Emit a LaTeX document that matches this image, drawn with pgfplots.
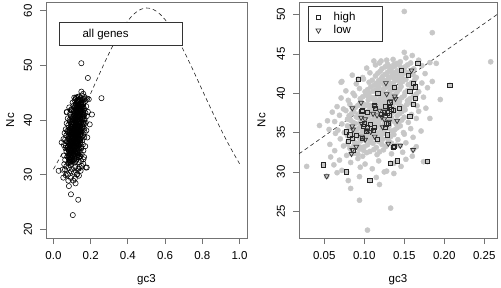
\documentclass[border=0pt]{standalone}
\usepackage{pgfplots}
\pgfplotsset{compat=1.18}
\usepackage{pgfplotstable}
\usepackage{fontspec}
\setmainfont{Liberation Sans}
\definecolor{frame}{gray}{0.45}
\definecolor{ptgray}{gray}{0.78}

% all genes (except the high/low subsets, listed below)
\pgfplotstableread[row sep=\\]{
x y\\
0.072 30.2\\ 0.095 30.6\\ 0.128 30.1\\ 0.146 30.7\\ 0.110 30.4\\ 0.062 30.9\\
0.083 31.2\\ 0.101 31.0\\ 0.118 31.4\\ 0.137 31.1\\ 0.152 31.6\\ 0.092 31.7\\ 0.069 31.5\\ 0.174 31.3\\
0.078 32.1\\ 0.088 32.4\\ 0.098 32.0\\ 0.107 32.6\\ 0.116 32.2\\ 0.124 32.8\\ 0.134 32.3\\ 0.148 32.5\\ 0.063 32.7\\ 0.160 32.0\\ 0.094 32.9\\
0.074 33.3\\ 0.082 33.0\\ 0.091 33.6\\ 0.100 33.2\\ 0.108 33.8\\ 0.115 33.1\\ 0.122 33.5\\ 0.131 33.9\\ 0.140 33.4\\ 0.152 33.7\\ 0.165 33.2\\ 0.057 33.5\\ 0.096 33.95\\ 0.087 33.35\\
0.070 34.2\\ 0.079 34.6\\ 0.086 34.1\\ 0.093 34.8\\ 0.101 34.4\\ 0.107 34.0\\ 0.113 34.7\\ 0.119 34.3\\ 0.126 34.9\\ 0.133 34.5\\ 0.142 34.1\\ 0.150 34.8\\ 0.161 34.4\\ 0.064 34.9\\ 0.097 34.55\\ 0.123 34.15\\ 0.089 34.75\\
0.067 35.3\\ 0.075 35.0\\ 0.082 35.6\\ 0.090 35.2\\ 0.096 35.8\\ 0.103 35.4\\ 0.109 35.1\\ 0.115 35.7\\ 0.121 35.3\\ 0.127 35.9\\ 0.134 35.2\\ 0.141 35.6\\ 0.149 35.0\\ 0.158 35.5\\ 0.171 35.2\\ 0.056 35.4\\ 0.044 35.9\\ 0.100 35.65\\ 0.112 35.45\\ 0.086 35.35\\ 0.129 35.55\\
0.063 36.4\\ 0.072 36.1\\ 0.079 36.7\\ 0.086 36.3\\ 0.092 36.9\\ 0.098 36.5\\ 0.104 36.0\\ 0.110 36.6\\ 0.116 36.2\\ 0.122 36.8\\ 0.128 36.4\\ 0.134 36.9\\ 0.140 36.1\\ 0.147 36.6\\ 0.155 36.3\\ 0.165 36.8\\ 0.054 36.5\\ 0.101 36.85\\ 0.113 36.35\\ 0.119 36.55\\ 0.089 36.15\\ 0.131 36.05\\ 0.137 36.45\\
0.060 37.6\\ 0.069 37.2\\ 0.077 37.8\\ 0.084 37.4\\ 0.090 37.0\\ 0.096 37.7\\ 0.102 37.3\\ 0.108 37.9\\ 0.114 37.5\\ 0.120 37.1\\ 0.126 37.6\\ 0.132 37.2\\ 0.138 37.8\\ 0.144 37.4\\ 0.151 37.9\\ 0.159 37.3\\ 0.168 37.7\\ 0.105 37.05\\ 0.117 37.85\\ 0.123 37.35\\ 0.099 37.45\\ 0.135 37.55\\ 0.111 37.25\\ 0.129 37.95\\ 0.087 37.65\\
0.066 38.3\\ 0.074 38.0\\ 0.082 38.6\\ 0.089 38.2\\ 0.095 38.8\\ 0.101 38.4\\ 0.107 38.1\\ 0.113 38.7\\ 0.119 38.3\\ 0.125 38.9\\ 0.131 38.5\\ 0.137 38.1\\ 0.143 38.6\\ 0.150 38.2\\ 0.157 38.8\\ 0.166 38.4\\ 0.177 38.1\\ 0.104 38.55\\ 0.116 38.95\\ 0.122 38.15\\ 0.128 38.75\\ 0.134 38.35\\ 0.098 38.05\\ 0.110 38.25\\ 0.140 38.85\\
0.071 39.4\\ 0.080 39.1\\ 0.088 39.7\\ 0.095 39.3\\ 0.102 39.9\\ 0.108 39.5\\ 0.114 39.0\\ 0.120 39.6\\ 0.126 39.2\\ 0.132 39.8\\ 0.138 39.4\\ 0.144 39.0\\ 0.150 39.7\\ 0.157 39.3\\ 0.165 39.9\\ 0.174 39.5\\ 0.111 39.25\\ 0.117 39.85\\ 0.123 39.45\\ 0.129 39.05\\ 0.135 39.65\\ 0.141 39.25\\ 0.105 39.15\\
0.077 40.3\\ 0.086 40.0\\ 0.094 40.6\\ 0.101 40.2\\ 0.108 40.8\\ 0.114 40.4\\ 0.120 40.1\\ 0.126 40.7\\ 0.132 40.3\\ 0.138 40.9\\ 0.144 40.5\\ 0.151 40.1\\ 0.159 40.6\\ 0.168 40.2\\ 0.179 40.7\\ 0.117 40.55\\ 0.123 40.25\\ 0.129 40.85\\ 0.135 40.45\\ 0.141 40.15\\ 0.104 40.45\\
0.072 41.5\\ 0.090 41.2\\ 0.099 41.8\\ 0.106 41.4\\ 0.112 41.0\\ 0.118 41.6\\ 0.124 41.2\\ 0.130 41.8\\ 0.136 41.3\\ 0.142 41.9\\ 0.148 41.5\\ 0.155 41.1\\ 0.163 41.7\\ 0.172 41.3\\ 0.185 41.5\\ 0.127 41.55\\ 0.133 41.05\\ 0.139 41.65\\ 0.121 41.85\\ 0.115 41.25\\ 0.145 41.2\\
0.085 42.3\\ 0.098 42.0\\ 0.107 42.6\\ 0.114 42.2\\ 0.120 42.8\\ 0.126 42.4\\ 0.132 42.0\\ 0.138 42.6\\ 0.144 42.2\\ 0.150 42.8\\ 0.157 42.4\\ 0.165 42.0\\ 0.176 42.5\\ 0.129 42.65\\ 0.135 42.25\\ 0.141 42.85\\ 0.123 42.15\\ 0.148 42.45\\
0.103 43.2\\ 0.114 43.6\\ 0.122 43.1\\ 0.129 43.7\\ 0.135 43.3\\ 0.141 43.8\\ 0.147 43.2\\ 0.154 43.6\\ 0.162 43.1\\ 0.172 43.5\\ 0.182 43.9\\ 0.132 43.05\\ 0.138 43.45\\ 0.119 43.85\\ 0.126 43.35\\
0.112 44.1\\ 0.121 44.1\\ 0.136 44.3\\ 0.145 44.0\\ 0.160 44.8\\ 0.152 44.5\\ 0.128 44.2\\ 0.168 44.2\\ 0.150 45.2\\
0.258 44.0\\ 0.150 50.4\\ 0.185 47.7\\ 0.094 26.4\\ 0.133 25.4\\ 0.104 22.6\\ 0.083 27.9\\ 0.119 28.4\\ 0.028 30.7\\ 0.094 29.4\\
0.071 41.4\\ 0.115 29.3\\ 0.137 29.8\\ 0.195 39.2\\ 0.182 36.8\\ 0.190 43.8\\ 0.058 31.9\\ 0.066 29.9\\ 0.080 28.9\\ 0.125 30.0\\
0.092 32.25\\ 0.103 32.45\\ 0.112 32.85\\ 0.085 32.65\\ 0.119 32.55\\ 0.099 32.75\\
0.095 33.15\\ 0.104 33.45\\ 0.111 33.65\\ 0.118 33.85\\ 0.088 33.75\\ 0.127 33.25\\ 0.134 33.65\\ 0.079 33.55\\
0.094 34.25\\ 0.104 34.65\\ 0.110 34.35\\ 0.116 34.95\\ 0.129 34.25\\ 0.137 34.75\\ 0.083 34.45\\ 0.121 34.65\\ 0.100 34.85\\
0.093 35.55\\ 0.098 35.15\\ 0.106 35.75\\ 0.118 35.95\\ 0.124 35.15\\ 0.131 35.85\\ 0.138 35.35\\ 0.145 35.85\\ 0.079 35.85\\ 0.107 35.25\\
0.095 36.25\\ 0.107 36.35\\ 0.113 36.85\\ 0.125 36.15\\ 0.132 36.65\\ 0.143 36.35\\ 0.083 36.55\\ 0.150 36.95\\ 0.118 36.05\\ 0.101 36.45\\
0.093 37.35\\ 0.104 37.65\\ 0.116 37.35\\ 0.124 37.95\\ 0.131 37.55\\ 0.141 37.15\\ 0.147 37.65\\ 0.081 37.15\\ 0.110 37.75\\ 0.119 37.55\\
0.099 38.65\\ 0.108 38.45\\ 0.115 38.15\\ 0.121 38.65\\ 0.127 38.35\\ 0.136 38.65\\ 0.146 38.35\\ 0.153 38.55\\ 0.092 38.45\\ 0.132 38.95\\
0.104 39.65\\ 0.113 39.45\\ 0.119 39.15\\ 0.125 39.75\\ 0.131 39.35\\ 0.139 39.85\\ 0.147 39.45\\ 0.154 39.05\\ 0.098 39.55\\ 0.161 39.55\\
0.111 40.25\\ 0.118 40.85\\ 0.124 40.55\\ 0.131 40.05\\ 0.137 40.65\\ 0.146 40.85\\ 0.154 40.35\\ 0.163 40.95\\ 0.106 40.05\\
0.118 41.35\\ 0.124 41.65\\ 0.131 41.35\\ 0.137 41.95\\ 0.144 41.55\\ 0.152 41.75\\ 0.159 41.35\\ 0.110 41.65\\
0.128 42.35\\ 0.134 42.75\\ 0.141 42.45\\ 0.147 42.05\\ 0.153 42.65\\ 0.161 42.35\\ 0.117 42.55\\
0.137 43.65\\ 0.144 43.55\\ 0.151 43.35\\ 0.158 43.85\\ 0.131 43.45\\
}\allgenes

% highly expressed genes
\pgfplotstableread[row sep=\\]{
x y\\
0.167 43.8\\ 0.146 42.9\\ 0.155 42.3\\ 0.0925 41.8\\ 0.161 41.3\\ 0.164 40.8\\ 0.138 40.7\\ 0.117 40.0\\ 0.157 40.2\\ 0.164 39.3\\
0.207 41.0\\ 0.161 38.6\\ 0.132 38.8\\ 0.131 38.2\\ 0.113 38.5\\ 0.144 38.1\\ 0.0975 37.8\\ 0.104 37.6\\ 0.125 37.6\\ 0.129 37.5\\
0.134 37.9\\ 0.157 37.1\\ 0.131 37.2\\ 0.136 37.8\\ 0.121 37.3\\ 0.100 36.1\\ 0.108 36.0\\ 0.104 35.6\\ 0.111 35.3\\ 0.113 35.7\\
0.130 36.2\\ 0.126 35.7\\ 0.099 35.8\\ 0.103 35.2\\ 0.078 35.1\\ 0.082 34.7\\ 0.080 33.9\\ 0.085 34.3\\ 0.090 34.6\\ 0.098 34.3\\
0.116 34.1\\ 0.129 34.7\\ 0.086 32.7\\ 0.128 36.1\\ 0.138 33.2\\ 0.136 33.1\\ 0.133 31.1\\ 0.141 31.4\\ 0.179 31.3\\ 0.049 30.9\\
0.078 30.0\\ 0.107 28.9\\ 0.097 37.7\\ 0.114 38.1\\ 0.127 38.3\\
}\highgenes

% lowly expressed genes
\pgfplotstableread[row sep=\\]{
x y\\
0.053 29.45\\ 0.084 32.3\\ 0.090 33.2\\ 0.130 33.6\\ 0.145 33.35\\ 0.161 32.8\\ 0.085 32.8\\ 0.085 38.1\\ 0.096 38.8\\ 0.127 41.3\\
0.159 42.9\\ 0.138 39.6\\ 0.128 39.9\\ 0.139 39.3\\ 0.113 38.4\\ 0.116 37.2\\ 0.141 36.5\\ 0.097 36.1\\ 0.085 35.8\\ 0.086 35.4\\
0.103 35.3\\ 0.123 35.7\\ 0.101 34.1\\ 0.097 34.5\\ 0.113 34.5\\ 0.125 36.7\\ 0.122 37.0\\ 0.131 36.4\\ 0.096 36.9\\ 0.119 37.8\\
0.125 37.7\\ 0.108 35.1\\ 0.101 36.7\\ 0.111 37.4\\ 0.133 39.0\\
}\lowgenes

% expected Nc under GC3 constraint
\pgfplotstableread[row sep=\\]{
x y\\
0.000 31.000\\ 0.025 32.511\\ 0.050 34.094\\ 0.075 35.747\\ 0.100 37.466\\ 0.125 39.245\\ 0.150 41.076\\ 0.175 42.948\\
0.200 44.847\\ 0.225 46.755\\ 0.250 48.650\\ 0.275 50.508\\ 0.300 52.300\\ 0.325 53.995\\ 0.350 55.561\\ 0.375 56.963\\
0.400 58.169\\ 0.425 59.149\\ 0.450 59.876\\ 0.475 60.330\\ 0.500 60.500\\ 0.525 60.380\\ 0.550 59.976\\ 0.575 59.299\\
0.600 58.369\\ 0.625 57.213\\ 0.650 55.861\\ 0.675 54.345\\ 0.700 52.700\\ 0.725 50.958\\ 0.750 49.150\\ 0.775 47.305\\
0.800 45.447\\ 0.825 43.598\\ 0.850 41.776\\ 0.875 39.995\\ 0.900 38.266\\ 0.925 36.597\\ 0.950 34.994\\ 0.975 33.461\\
1.000 32.000\\
}\expected

\pgfplotsset{
  rstyle/.style={
    scale only axis,
    axis line style={frame, line width=0.8pt},
    tick align=outside, tick pos=left,
    major tick length=6pt,
    tick style={frame, line width=0.8pt},
    font=\fontsize{11.5}{13}\selectfont,
    xticklabel style={anchor=north, inner sep=0pt},
    yticklabel style={rotate=90, anchor=south, inner sep=0pt},
    xticklabel shift=7.7pt, yticklabel shift=7.7pt,
    every axis x label/.style={at={(axis description cs:0.5,0)}, anchor=base, yshift=-44.7pt, inner sep=0pt},
    clip marker paths=false,
  },
}

\begin{document}
\begin{tikzpicture}
\useasboundingbox (0pt,0pt) rectangle (501pt,287pt);

% ---------------- left panel ----------------
\begin{axis}[rstyle,
  at={(46pt,49pt)}, anchor=south west,
  width=201pt, height=236pt,
  xmin=-0.04, xmax=1.04, ymin=18.4, ymax=61.6,
  xtick={0,0.2,0.4,0.6,0.8,1}, xticklabels={0.0,0.2,0.4,0.6,0.8,1.0},
  ytick={20,30,40,50,60}, yticklabels={20,30,40,50,60},
  xlabel={gc3}, ylabel={Nc},
  every axis y label/.style={at={(axis description cs:-0.158,0.5)}, rotate=90, anchor=base, inner sep=0pt},
]
\addplot[only marks, mark=o, mark size=2.6pt, mark options={black, line width=0.55pt}] table {\allgenes};
\addplot[only marks, mark=o, mark size=2.6pt, mark options={black, line width=0.55pt}] table {\highgenes};
\addplot[only marks, mark=o, mark size=2.6pt, mark options={black, line width=0.55pt}] table {\lowgenes};
\addplot[black!85, line width=0.6pt, dash pattern=on 4pt off 3pt, smooth] table {\expected};
\draw[black!80, line width=0.8pt, fill=white] (rel axis cs:0.066,0.912) rectangle (rel axis cs:0.680,0.818);
\node[anchor=base west, inner sep=0pt] at (rel axis cs:0.181,0.849) {all genes};
\end{axis}

% ---------------- right panel ----------------
\begin{axis}[rstyle,
  at={(299pt,49pt)}, anchor=south west,
  width=198pt, height=236pt,
  xmin=0.0184, xmax=0.2659, ymin=21.6, ymax=51.6,
  xtick={0.05,0.10,0.15,0.20,0.25}, xticklabels={0.05,0.10,0.15,0.20,0.25},
  ytick={25,30,35,40,45,50}, yticklabels={25,30,35,40,45,50},
  xlabel={gc3}, ylabel={Nc},
  every axis y label/.style={at={(axis description cs:-0.17,0.5)}, rotate=90, anchor=base, inner sep=0pt},
  legend style={at={(0.047,0.983)}, anchor=north west, draw=black!80, line width=0.8pt, fill=white,
    inner xsep=2.7pt, inner ysep=5pt, row sep=1.3pt, column sep=6.3pt,
    nodes={inner xsep=2pt, inner ysep=1pt}, cells={anchor=west},
    font=\fontsize{11.5}{13}\selectfont},
  legend image code/.code={\path[draw=none, fill=none] (0pt,-3pt) rectangle (14pt,3pt);
    \draw[#1] plot coordinates {(7pt,0pt)};},
]
\addplot[only marks, mark=*, mark size=2.6pt, mark options={draw=ptgray, fill=ptgray}, forget plot] table {\allgenes};
\addplot[only marks, mark=*, mark size=2.6pt, mark options={draw=ptgray, fill=ptgray}, forget plot] table {\highgenes};
\addplot[only marks, mark=*, mark size=2.6pt, mark options={draw=ptgray, fill=ptgray}, forget plot] table {\lowgenes};
\addplot[only marks, mark=square, mark size=2.1pt, mark options={draw=black!85, line width=0.8pt}] table {\highgenes};
\addlegendentry{\makebox[44pt][l]{high}}
\addplot[only marks, mark=triangle, mark size=2.8pt, mark options={draw=black!80, line width=0.7pt, rotate=180}] table {\lowgenes};
\addlegendentry{\makebox[44pt][l]{low}}
\addplot[black!85, line width=0.6pt, dash pattern=on 4pt off 3pt, forget plot] coordinates {(0.0184,32.3) (0.2659,50.0)};
\end{axis}
\end{tikzpicture}
\end{document}
